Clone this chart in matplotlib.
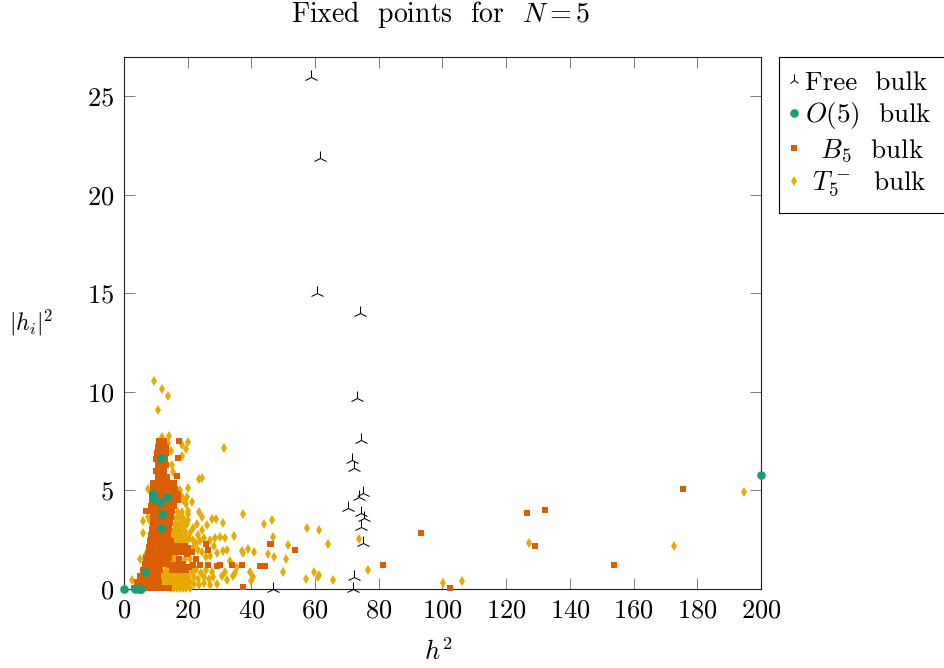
import matplotlib
matplotlib.use("Agg")
import matplotlib.pyplot as plt

plt.rcParams['font.family'] = ['cmr10', 'DejaVu Sans']
plt.rcParams['mathtext.fontset'] = 'cm'
plt.rcParams['axes.formatter.use_mathtext'] = True

free_x = [58.7, 61.5, 60.5, 74.0, 73.2, 74.5, 71.5, 72.3, 75.0, 73.8, 70.3, 74.5, 75.4, 74.4, 75.1, 72.3, 46.8, 71.8]
free_y = [26.0, 21.85, 15.0, 14.0, 9.68, 7.56, 6.54, 6.13, 4.87, 4.68, 4.1, 3.84, 3.6, 3.16, 2.33, 0.62, 0.0, 0.0]

o5_x = [0.0, 3.4, 4.6, 5.4, 6.6, 11.6, 12.0, 11.3, 9.0, 9.5, 13.6, 11.6, 200.0]
o5_y = [0.0, 0.0, 0.0, 0.0, 0.85, 3.08, 3.8, 4.4, 4.8, 4.55, 4.65, 6.66, 5.8]

b5_outer = [(17.3, 7.52), (17.0, 6.65), (16.5, 5.75), (25.7, 2.3), (26.5, 2.0), (46.0, 2.27), (37.4, 0.12),
            (21.8, 1.2), (23.9, 1.2), (26.5, 1.2), (29.1, 1.15), (30.1, 1.2), (33.8, 1.2), (37.2, 1.2),
            (42.7, 1.15), (44.3, 1.15), (45.8, 2.28), (53.7, 2.0), (81.3, 1.2), (93.3, 2.83), (102.4, 0.03),
            (126.5, 3.85), (129.0, 2.2), (132.2, 4.0), (153.8, 1.2), (175.5, 5.05)]
b5_core = [(11.0, 7.5), (12.5, 7.5), (10.6, 7.2), (12.0, 7.2), (13.3, 7.2), (10.4, 6.9), (11.8, 6.9), (13.2, 6.9),
           (10.2, 6.6), (11.6, 6.6), (13.0, 6.6), (10.6, 6.3), (12.0, 6.3), (13.2, 6.3), (9.9, 6.0), (11.2, 6.0),
           (12.6, 6.0), (10.8, 5.7), (12.2, 5.7), (13.6, 5.7), (9.0, 5.4), (10.4, 5.4), (11.8, 5.4), (13.2, 5.4),
           (14.6, 5.4), (15.6, 5.4), (9.0, 5.1), (10.4, 5.1), (11.8, 5.1), (13.2, 5.1), (14.6, 5.1), (16.0, 5.1),
           (8.8, 4.8), (10.2, 4.8), (11.6, 4.8), (13.0, 4.8), (14.4, 4.8), (15.8, 4.8), (16.8, 4.8), (8.8, 4.5),
           (10.2, 4.5), (11.6, 4.5), (13.0, 4.5), (14.4, 4.5), (15.8, 4.5), (16.8, 4.5), (8.6, 4.2), (10.0, 4.2),
           (11.4, 4.2), (12.8, 4.2), (14.2, 4.2), (15.6, 4.2), (6.8, 3.95), (8.2, 3.95), (9.6, 3.95), (11.0, 3.95),
           (12.4, 3.95), (13.8, 3.95), (15.2, 3.95), (9.2, 3.65), (10.6, 3.65), (12.0, 3.65), (13.4, 3.65), (14.8, 3.65),
           (9.0, 3.35), (10.4, 3.35), (11.8, 3.35), (13.2, 3.35), (14.4, 3.35), (8.8, 3.05), (10.2, 3.05), (11.6, 3.05),
           (13.0, 3.05), (14.0, 3.05), (8.4, 2.75), (9.8, 2.75), (11.2, 2.75), (12.6, 2.75), (13.8, 2.75), (8.2, 2.45),
           (9.6, 2.45), (11.0, 2.45), (12.4, 2.45), (13.6, 2.45), (14.6, 2.45), (7.8, 2.15), (9.2, 2.15), (10.6, 2.15),
           (12.0, 2.15), (13.4, 2.15), (14.8, 2.15), (16.0, 2.2), (17.6, 2.2), (19.0, 2.2), (20.2, 2.1), (21.2, 1.9),
           (15.4, 1.9), (16.8, 1.9), (18.2, 1.9), (19.8, 1.8), (7.4, 1.85), (8.8, 1.85), (10.2, 1.85), (11.6, 1.85),
           (13.0, 1.85), (14.2, 1.85), (17.4, 1.5), (22.6, 1.5), (7.0, 1.55), (8.4, 1.55), (9.8, 1.55), (11.2, 1.55),
           (12.6, 1.55), (14.0, 1.55), (15.6, 1.2), (14.4, 1.2), (17.2, 1.25), (18.4, 1.25), (20.4, 1.1), (6.6, 1.25),
           (8.0, 1.25), (9.4, 1.25), (10.8, 1.25), (12.2, 1.25), (13.4, 1.25), (6.0, 0.95), (7.4, 0.95), (8.8, 0.95),
           (10.2, 0.95), (11.4, 0.95), (15.0, 0.95), (16.4, 0.95), (18.0, 0.95), (19.6, 0.95), (5.0, 0.65), (6.4, 0.65),
           (7.8, 0.65), (9.2, 0.65), (10.6, 0.65), (4.0, 0.35), (5.4, 0.35), (6.8, 0.35), (8.2, 0.35), (9.6, 0.35),
           (11.0, 0.35), (3.0, 0.05), (4.4, 0.05), (5.8, 0.05), (7.2, 0.05), (8.6, 0.05), (10.0, 0.05), (11.4, 0.05),
           (12.8, 0.05), (14.0, 0.05)]
b5_x = [p[0] for p in b5_core + b5_outer]
b5_y = [p[1] for p in b5_core + b5_outer]

t5_outer = [(9.5, 10.56), (11.8, 10.13), (13.9, 9.8), (10.8, 9.08), (20.0, 7.44), (19.6, 7.1), (18.1, 7.3), (31.5, 7.15),
            (23.6, 5.6), (24.5, 5.65), (20.2, 5.15), (18.1, 6.75), (15.2, 6.3), (15.5, 5.95), (7.5, 5.05), (19.7, 4.65),
            (18.1, 4.65), (21.2, 4.4), (19.4, 4.3), (20.2, 3.95), (20.2, 3.8), (23.4, 3.9), (37.5, 3.8), (46.6, 3.5),
            (43.9, 3.3), (6.0, 3.45), (6.0, 2.85), (7.6, 3.65), (8.2, 3.45), (4.9, 1.5), (2.5, 0.45), (6.6, 1.65),
            (24.4, 3.65), (27.5, 3.55), (28.9, 3.55), (26.0, 3.25), (31.0, 3.35), (22.8, 3.3), (21.6, 3.1), (24.4, 3.0),
            (23.3, 2.75), (30.1, 2.65), (31.7, 2.6), (34.6, 2.7), (46.7, 2.65), (28.5, 2.6), (27.0, 2.5), (51.6, 2.23),
            (32.2, 2.0), (31.0, 1.95), (29.1, 1.85), (27.0, 1.7), (37.2, 1.95), (37.5, 1.85), (39.0, 2.05), (40.8, 1.9),
            (45.3, 1.8), (47.2, 1.6), (50.8, 1.52), (50.0, 0.86), (39.5, 0.85), (40.6, 0.6), (39.9, 0.4), (35.4, 1.1),
            (34.8, 0.8), (34.2, 0.65), (32.4, 0.45), (30.7, 0.65), (31.7, 0.85), (33.2, 1.4), (29.1, 0.25),
            (57.6, 3.08), (61.2, 3.0), (63.9, 2.28), (57.0, 0.52), (59.7, 0.88), (60.8, 0.62), (61.2, 0.73), (65.5, 0.47),
            (73.9, 2.52), (76.5, 0.96), (100.2, 0.3), (106.1, 0.4), (127.2, 2.35), (172.7, 2.2), (194.7, 4.9)]
t5_core = [(14.0, 7.75), (12.0, 7.7), (13.7, 7.4), (14.8, 7.0), (15.5, 5.3), (16.5, 5.0), (17.6, 5.0), (18.6, 4.5),
           (17.0, 3.9), (18.2, 3.9), (16.4, 3.6), (17.3, 3.7), (18.4, 3.6), (19.0, 3.45), (20.0, 3.5), (15.9, 3.3),
           (16.7, 3.25), (17.5, 3.35), (18.6, 3.2), (19.8, 3.3), (15.6, 3.0), (16.4, 2.95), (17.2, 3.0), (18.0, 2.9),
           (19.1, 2.95), (20.6, 2.85), (15.2, 2.7), (16.0, 2.65), (16.9, 2.7), (17.8, 2.65), (18.7, 2.6), (19.6, 2.65),
           (20.4, 2.55), (21.6, 2.5), (22.6, 2.35), (24.0, 2.45), (25.0, 2.6), (21.8, 2.1), (23.2, 2.0), (24.4, 1.9),
           (25.6, 1.6), (28.4, 2.2), (15.0, 2.4), (16.0, 2.4), (17.0, 2.35), (18.0, 2.4), (19.0, 2.4), (15.0, 1.7),
           (16.2, 1.6), (14.6, 1.45), (15.6, 1.45), (16.6, 1.45), (19.2, 1.5), (20.8, 1.5), (21.4, 0.85), (22.7, 0.95),
           (24.1, 0.8), (25.6, 0.95), (27.5, 0.85), (22.0, 0.6), (23.3, 0.5), (25.0, 0.6), (26.6, 0.5), (28.1, 0.6),
           (21.9, 0.25), (23.6, 0.2), (25.2, 0.3), (26.9, 0.2), (20.8, 0.05), (18.8, 0.7), (20.2, 0.65), (12.0, 0.8),
           (12.8, 0.85), (13.6, 0.8), (14.4, 0.7), (15.2, 0.7), (16.0, 0.7), (16.8, 0.7), (17.6, 0.7), (11.8, 0.5),
           (12.6, 0.55), (13.4, 0.5), (14.2, 0.45), (15.0, 0.45), (15.8, 0.45), (16.6, 0.45), (17.4, 0.45), (18.2, 0.45),
           (19.0, 0.4), (19.8, 0.4), (20.6, 0.4), (11.4, 0.25), (12.2, 0.25), (13.0, 0.25), (13.8, 0.2), (14.6, 0.2),
           (15.4, 0.2), (16.2, 0.2), (17.0, 0.2), (17.8, 0.2), (18.6, 0.2), (19.4, 0.2), (20.2, 0.2), (14.6, 0.03),
           (15.6, 0.03), (16.6, 0.03), (17.6, 0.03), (18.6, 0.03), (19.6, 0.03), (13.5, 1.05), (14.2, 1.05), (19.0, 1.1),
           (22.0, 1.1), (13.8, 1.3), (15.2, 1.05), (16.2, 1.05), (17.2, 1.05), (18.2, 1.05)]
t5_x = [p[0] for p in t5_core + t5_outer]
t5_y = [p[1] for p in t5_core + t5_outer]

x_ticks = list(range(0, 201, 20))
y_ticks = [0, 5, 10, 15, 20, 25]

C_GREEN, C_ORANGE, C_GOLD = '#1B9E77', '#D95F02', '#E6AB02'
W, H = 945, 668
L, R, T, B = 124, 761, 57, 589

fig = plt.figure(figsize=(W / 100, H / 100), dpi=100)
ax = fig.add_axes([L / W, 1 - B / H, (R - L) / W, (B - T) / H])

style = dict(linestyle='none', clip_on=False)
ax.plot(free_x, free_y, marker='2', color='black', markersize=10, markeredgewidth=0.75, zorder=6,
        label='Free  bulk', **style)
ax.plot(o5_x, o5_y, marker='o', color=C_GREEN, markersize=6.2, markeredgewidth=0, zorder=5,
        label=r'$O(5)$  bulk', **style)
ax.plot(b5_x, b5_y, marker='s', color=C_ORANGE, markersize=5, markeredgewidth=0, zorder=4,
        label=r'$\ \ B_5$  bulk', **style)
ax.plot(t5_x, t5_y, marker='d', color=C_GOLD, markersize=4.8, markeredgewidth=0, zorder=3,
        label=r'$\ T_5^-$  bulk', **style)

ax.set_xlim(0, 200)
ax.set_ylim(0, 27)
ax.set_xticks(x_ticks)
ax.set_yticks(y_ticks)
ax.tick_params(axis='both', which='major', direction='in', top=True, right=True, length=8,
               width=0.6, color='#666666', labelsize=19, pad=7)
for s in ax.spines.values():
    s.set_linewidth(0.8)
    s.set_color('#222222')

ax.set_xlabel(r'$h^2$', fontsize=19)
ax.xaxis.set_label_coords((438 - L) / (R - L), -(652 - B) / (B - T), transform=ax.transAxes)
ax.xaxis.label.set_verticalalignment('center')
ax.set_ylabel(r'$|h_i|^2$', fontsize=17, rotation=0, ha='center', va='center')
ax.yaxis.set_label_coords((31 - L) / (R - L), (B - 323) / (B - T), transform=ax.transAxes)
fig.text(441 / W, 1 - 15 / H, r'Fixed  points  for  $N=5$', fontsize=20, ha='center', va='center')

leg = ax.legend(loc='upper left', bbox_to_anchor=(779 / W, 1 - 57 / H), bbox_transform=fig.transFigure,
                fontsize=19.5, frameon=True, fancybox=False, framealpha=1, edgecolor='black',
                borderaxespad=0, borderpad=0.5, handlelength=0.1, handletextpad=0.36, labelspacing=0.22,
                numpoints=1)
leg.get_frame().set_linewidth(0.8)
for h, ms in zip(leg.get_lines(), [8, 6.2, 5, 4.8]):
    h.set_markersize(ms)

fig.savefig('out.png', dpi=100)
